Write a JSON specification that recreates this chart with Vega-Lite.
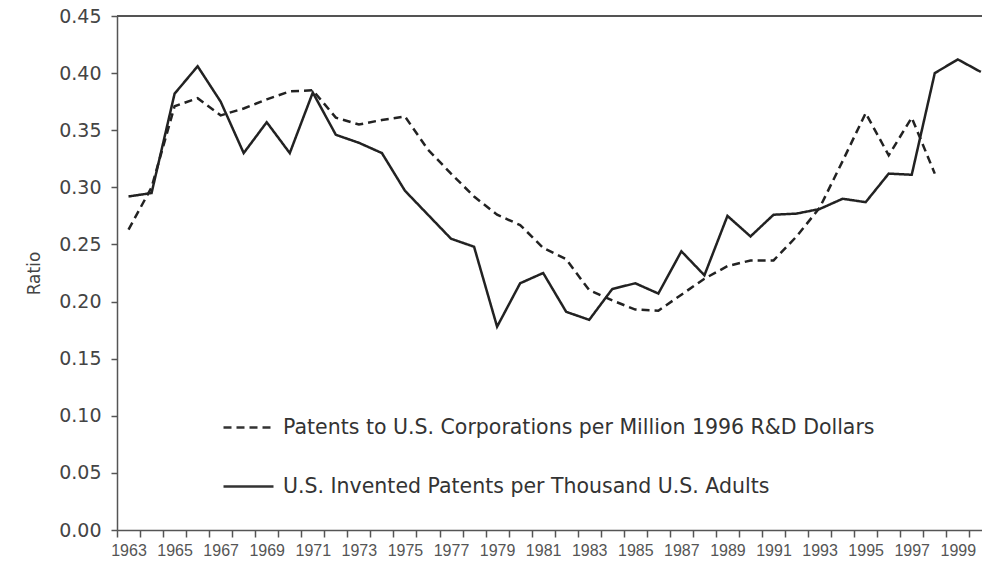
{
  "$schema": "https://vega.github.io/schema/vega-lite/v6.json",
  "width": 865,
  "height": 514,
  "autosize": "none",
  "padding": {"left": 117, "top": 16, "right": 0, "bottom": 37},
  "background": "white",
  "config": {"view": {"stroke": null}},
  "data": {"values": [
    {"year": 1963, "series": "U", "value": 0.292},
    {"year": 1964, "series": "U", "value": 0.295},
    {"year": 1965, "series": "U", "value": 0.382},
    {"year": 1966, "series": "U", "value": 0.406},
    {"year": 1967, "series": "U", "value": 0.375},
    {"year": 1968, "series": "U", "value": 0.330},
    {"year": 1969, "series": "U", "value": 0.357},
    {"year": 1970, "series": "U", "value": 0.330},
    {"year": 1971, "series": "U", "value": 0.383},
    {"year": 1972, "series": "U", "value": 0.346},
    {"year": 1973, "series": "U", "value": 0.339},
    {"year": 1974, "series": "U", "value": 0.330},
    {"year": 1975, "series": "U", "value": 0.297},
    {"year": 1976, "series": "U", "value": 0.276},
    {"year": 1977, "series": "U", "value": 0.255},
    {"year": 1978, "series": "U", "value": 0.248},
    {"year": 1979, "series": "U", "value": 0.178},
    {"year": 1980, "series": "U", "value": 0.216},
    {"year": 1981, "series": "U", "value": 0.225},
    {"year": 1982, "series": "U", "value": 0.191},
    {"year": 1983, "series": "U", "value": 0.184},
    {"year": 1984, "series": "U", "value": 0.211},
    {"year": 1985, "series": "U", "value": 0.216},
    {"year": 1986, "series": "U", "value": 0.207},
    {"year": 1987, "series": "U", "value": 0.244},
    {"year": 1988, "series": "U", "value": 0.223},
    {"year": 1989, "series": "U", "value": 0.275},
    {"year": 1990, "series": "U", "value": 0.257},
    {"year": 1991, "series": "U", "value": 0.276},
    {"year": 1992, "series": "U", "value": 0.277},
    {"year": 1993, "series": "U", "value": 0.281},
    {"year": 1994, "series": "U", "value": 0.290},
    {"year": 1995, "series": "U", "value": 0.287},
    {"year": 1996, "series": "U", "value": 0.312},
    {"year": 1997, "series": "U", "value": 0.311},
    {"year": 1998, "series": "U", "value": 0.400},
    {"year": 1999, "series": "U", "value": 0.412},
    {"year": 2000, "series": "U", "value": 0.401},
    {"year": 1963, "series": "P", "value": 0.263},
    {"year": 1964, "series": "P", "value": 0.300},
    {"year": 1965, "series": "P", "value": 0.371},
    {"year": 1966, "series": "P", "value": 0.378},
    {"year": 1967, "series": "P", "value": 0.363},
    {"year": 1968, "series": "P", "value": 0.369},
    {"year": 1969, "series": "P", "value": 0.377},
    {"year": 1970, "series": "P", "value": 0.384},
    {"year": 1971, "series": "P", "value": 0.385},
    {"year": 1972, "series": "P", "value": 0.361},
    {"year": 1973, "series": "P", "value": 0.355},
    {"year": 1974, "series": "P", "value": 0.359},
    {"year": 1975, "series": "P", "value": 0.362},
    {"year": 1976, "series": "P", "value": 0.333},
    {"year": 1977, "series": "P", "value": 0.312},
    {"year": 1978, "series": "P", "value": 0.292},
    {"year": 1979, "series": "P", "value": 0.276},
    {"year": 1980, "series": "P", "value": 0.267},
    {"year": 1981, "series": "P", "value": 0.247},
    {"year": 1982, "series": "P", "value": 0.237},
    {"year": 1983, "series": "P", "value": 0.210},
    {"year": 1984, "series": "P", "value": 0.201},
    {"year": 1985, "series": "P", "value": 0.193},
    {"year": 1986, "series": "P", "value": 0.192},
    {"year": 1987, "series": "P", "value": 0.206},
    {"year": 1988, "series": "P", "value": 0.220},
    {"year": 1989, "series": "P", "value": 0.231},
    {"year": 1990, "series": "P", "value": 0.236},
    {"year": 1991, "series": "P", "value": 0.236},
    {"year": 1992, "series": "P", "value": 0.257},
    {"year": 1993, "series": "P", "value": 0.282},
    {"year": 1994, "series": "P", "value": 0.323},
    {"year": 1995, "series": "P", "value": 0.365},
    {"year": 1996, "series": "P", "value": 0.328},
    {"year": 1997, "series": "P", "value": 0.361},
    {"year": 1998, "series": "P", "value": 0.312}
  ]},
  "layer": [
    {
      "mark": {"type": "line", "stroke": "#222", "strokeWidth": 2.5},
      "encoding": {
        "x": {
          "field": "year", "type": "quantitative",
          "scale": {"domain": [1962.5, 2000.05], "nice": false, "zero": false},
          "axis": {
            "title": null,
            "values": [1962.5,1963.5,1964.5,1965.5,1966.5,1967.5,1968.5,1969.5,1970.5,1971.5,1972.5,1973.5,1974.5,1975.5,1976.5,1977.5,1978.5,1979.5,1980.5,1981.5,1982.5,1983.5,1984.5,1985.5,1986.5,1987.5,1988.5,1989.5,1990.5,1991.5,1992.5,1993.5,1994.5,1995.5,1996.5,1997.5,1998.5,1999.5],
            "labelExpr": "(datum.value + 0.5) % 2 == 1 ? format(datum.value + 0.5, 'd') : ''",
            "labelOffset": 11.5,
            "labelOverlap": false,
            "labelBound": false,
            "labelFlush": false,
            "labelFont": "Liberation Sans",
            "labelFontSize": 16,
            "labelColor": "#555",
            "labelPadding": 5,
            "tickSize": 7,
            "tickColor": "#555",
            "tickWidth": 1.5,
            "domainColor": "#555",
            "domainWidth": 1.5,
            "grid": false
          }
        },
        "y": {
          "field": "value", "type": "quantitative",
          "scale": {"domain": [0, 0.45], "nice": false},
          "axis": {
            "title": "Ratio",
            "titleFont": "DejaVu Sans",
            "titleFontSize": 17,
            "titleFontWeight": "normal",
            "titleColor": "#444",
            "titlePadding": 15,
            "values": [0, 0.05, 0.1, 0.15, 0.2, 0.25, 0.3, 0.35, 0.4, 0.45],
            "format": ".2f",
            "labelFont": "DejaVu Sans",
            "labelFontSize": 19,
            "labelColor": "#444",
            "labelPadding": 10,
            "tickSize": 6,
            "tickColor": "#555",
            "tickWidth": 1.5,
            "domainColor": "#555",
            "domainWidth": 1.5,
            "grid": false
          }
        },
        "strokeDash": {
          "field": "series", "type": "nominal",
          "scale": {"domain": ["P", "U"], "range": [[8, 5], [1, 0]]},
          "legend": {
            "title": null,
            "orient": "none",
            "legendX": 105,
            "legendY": 385,
            "direction": "vertical",
            "symbolType": "stroke",
            "symbolSize": 2500,
            "symbolStrokeWidth": 2.5,
            "symbolStrokeColor": "#333",
            "labelExpr": "datum.value == 'P' ? 'Patents to U.S. Corporations per Million 1996 R&D Dollars' : 'U.S. Invented Patents per Thousand U.S. Adults'",
            "labelFont": "DejaVu Sans",
            "labelFontSize": 20.5,
            "labelColor": "#333",
            "labelLimit": 800,
            "labelOffset": 8,
            "rowPadding": 22
          }
        }
      }
    },
    {
      "mark": {"type": "rule", "stroke": "#555", "strokeWidth": 1.5},
      "encoding": {"y": {"datum": 0.45}}
    }
  ]
}
